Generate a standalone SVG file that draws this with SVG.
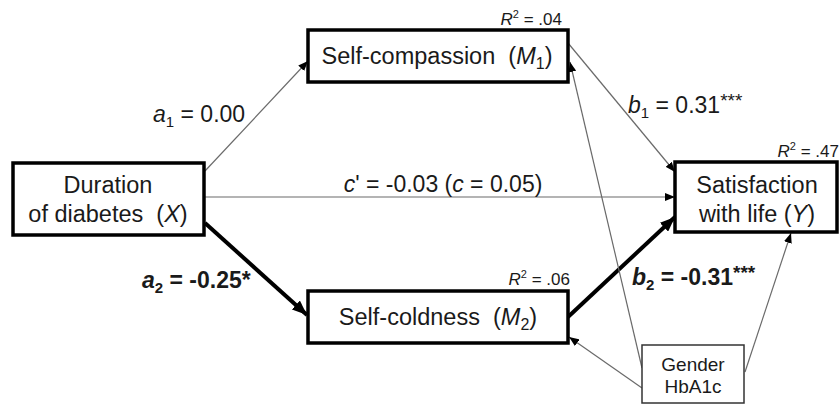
<svg xmlns="http://www.w3.org/2000/svg" width="840" height="406" viewBox="0 0 840 406">
<defs>
<style>
text{font-family:"Liberation Sans",Arial,sans-serif;fill:#1a1a1a}
.box{fill:#fff;stroke:#000;stroke-width:3.5}
.cov{fill:#fff;stroke:#333;stroke-width:1.5}
.bt{font-size:23.5px;text-anchor:middle}
.ct{font-size:19px;text-anchor:middle}
.r2{font-size:17px;text-anchor:end}
.lab{font-size:23px}
.thin{stroke:#6a6a6a;stroke-width:1.2;fill:none}
.thick{stroke:#000;stroke-width:4;fill:none}
.i{font-style:italic}
</style>
<marker id="ah" markerUnits="userSpaceOnUse" markerWidth="10" markerHeight="8" refX="10" refY="4" orient="auto"><path d="M0,0 L10,4 L0,8 z" fill="#000"/></marker>
<marker id="ahb" markerUnits="userSpaceOnUse" markerWidth="15" markerHeight="12" refX="15" refY="6" orient="auto"><path d="M0,0 L15,6 L0,12 z" fill="#000"/></marker>
</defs>
<rect width="840" height="406" fill="#fff"/>
<g id="connectors">
<line class="thin" x1="205" y1="171" x2="308" y2="61" marker-end="url(#ah)"/>
<line class="thin" x1="205" y1="197" x2="675" y2="197" marker-end="url(#ah)"/>
<line class="thick" x1="205" y1="223" x2="307" y2="315" marker-end="url(#ahb)"/>
<line class="thin" x1="568" y1="43" x2="675" y2="172" marker-end="url(#ah)"/>
<line class="thick" x1="568" y1="317" x2="675" y2="217" marker-end="url(#ahb)"/>
<line class="thin" x1="642" y1="368" x2="570" y2="62" marker-end="url(#ah)"/>
<line class="thin" x1="642" y1="388" x2="569" y2="337" marker-end="url(#ah)"/>
<line class="thin" x1="745" y1="372" x2="791" y2="233" marker-end="url(#ah)"/>
</g>
<g id="X">
<rect class="box" x="13" y="163" width="191" height="72"/>
<text class="bt" x="108" y="193">Duration</text>
<text class="bt" x="108" y="222">of diabetes&#160; (<tspan class="i">X</tspan>)</text>
</g>
<g id="M1">
<rect class="box" x="308" y="30" width="260" height="52"/>
<text class="bt" x="437" y="64">Self-compassion&#160; (<tspan class="i">M</tspan><tspan font-size="16" dy="5">1</tspan><tspan dy="-5">)</tspan></text>
<text class="r2" x="562" y="25"><tspan class="i">R</tspan><tspan font-size="11" dy="-7">2</tspan><tspan dy="7"> = .04</tspan></text>
</g>
<g id="M2">
<rect class="box" x="308" y="291" width="260" height="52"/>
<text class="bt" x="438" y="325">Self-coldness&#160; (<tspan class="i">M</tspan><tspan font-size="16" dy="5">2</tspan><tspan dy="-5">)</tspan></text>
<text class="r2" x="570" y="285"><tspan class="i">R</tspan><tspan font-size="11" dy="-7">2</tspan><tspan dy="7"> = .06</tspan></text>
</g>
<g id="Y">
<rect class="box" x="675" y="162" width="162" height="70"/>
<text class="bt" x="757" y="193">Satisfaction</text>
<text class="bt" x="757" y="222">with life (<tspan class="i">Y</tspan>)</text>
<text class="r2" x="839" y="157"><tspan class="i">R</tspan><tspan font-size="11" dy="-7">2</tspan><tspan dy="7"> = .47</tspan></text>
</g>
<g id="Cov">
<rect class="cov" x="642" y="345" width="102" height="58"/>
<text class="ct" x="693" y="371">Gender</text>
<text class="ct" x="693" y="393">HbA1c</text>
</g>
<g id="labels">
<text class="lab" x="153" y="122"><tspan class="i">a</tspan><tspan font-size="15" dy="5">1</tspan><tspan dy="-5"> = 0.00</tspan></text>
<text class="lab" x="443" y="192" text-anchor="middle"><tspan class="i">c</tspan>' = -0.03 (<tspan class="i">c</tspan> = 0.05)</text>
<text class="lab" x="142" y="288" font-weight="bold"><tspan class="i">a</tspan><tspan font-size="15" dy="5">2</tspan><tspan dy="-5"> = -0.25*</tspan></text>
<text class="lab" x="628" y="113"><tspan class="i">b</tspan><tspan font-size="15" dy="5">1</tspan><tspan dy="-5"> = 0.31</tspan><tspan font-size="19" dy="-6">***</tspan></text>
<text class="lab" x="632" y="285" font-weight="bold"><tspan class="i">b</tspan><tspan font-size="15" dy="5">2</tspan><tspan dy="-5"> = -0.31</tspan><tspan font-size="19" dy="-6">***</tspan></text>
</g>
</svg>
